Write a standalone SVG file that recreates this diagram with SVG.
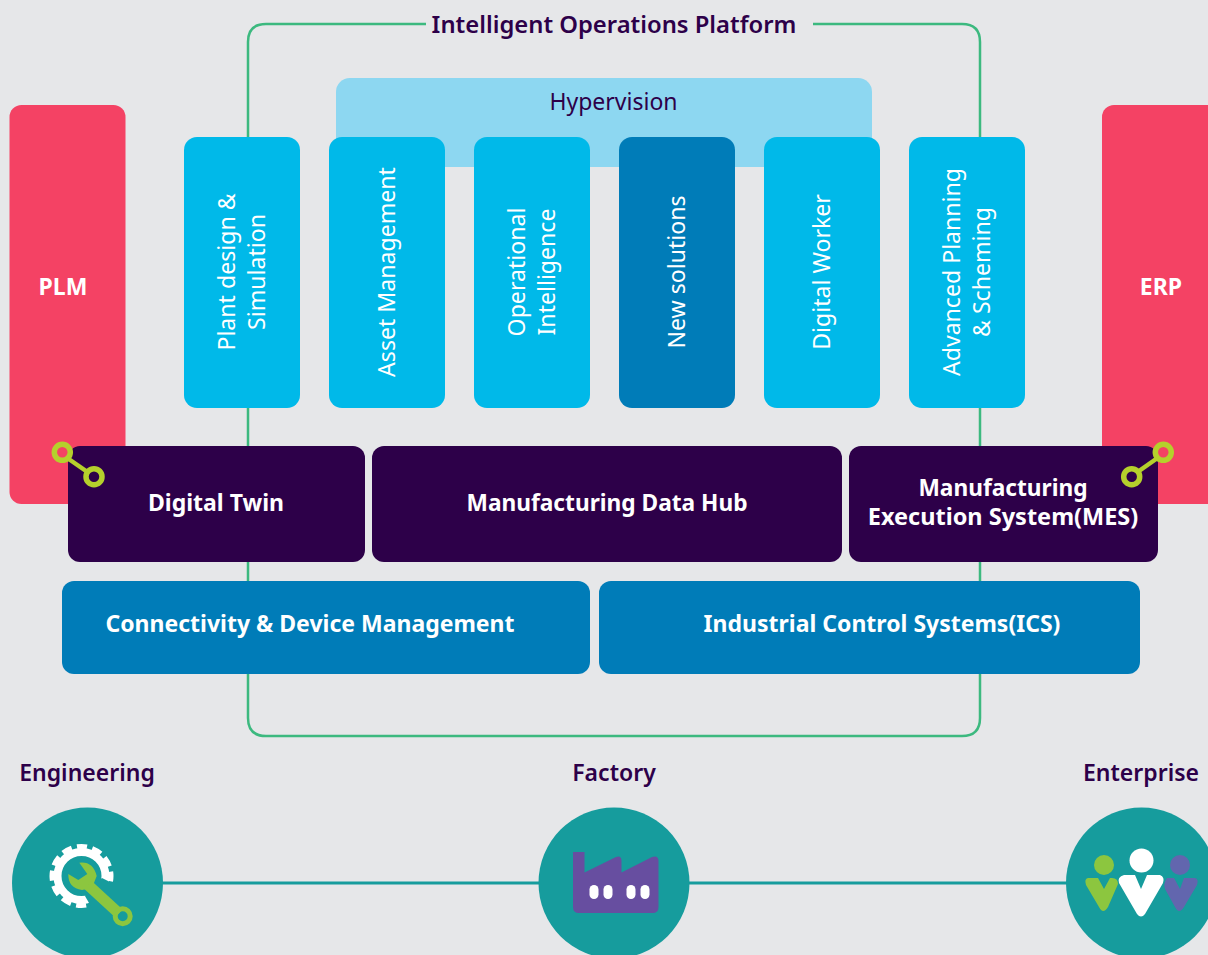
<svg xmlns="http://www.w3.org/2000/svg" width="1208" height="955" viewBox="0 0 1208 955">
<style>
text{font-family:"Noto Sans","Open Sans","Liberation Sans",sans-serif;text-anchor:middle}
.b{font-weight:700;fill:#fff;font-size:23px}
.l{font-weight:600;fill:#2d0049;font-size:23px}
.v{font-weight:400;fill:#fff;font-size:23.100px}
.pink{fill:#f44264}.sky{fill:#00b9e9}.deep{fill:#007cb8}.dark{fill:#2d0049}.teal{fill:#169c9d}
.lnk{fill:none;stroke:#b5d02c;stroke-width:5.5}
</style>
<rect width="1208" height="955" fill="#e6e7e9"/>
<g id="connectors" fill="none">
<path d="M426 24H266Q248 24 248 42V718Q248 736 266 736H962Q980 736 980 718V42Q980 24 962 24H813" stroke="#3cb97f" stroke-width="2.500"/>
<path d="M160 883H1070" stroke="#169c9d" stroke-width="3"/>
</g>
<text class="l" x="614" y="33" style="font-size:23.800px">Intelligent Operations Platform</text>
<g id="plm"><rect class="pink" x="9.500" y="105" width="116" height="399" rx="12"/><text class="b" x="63" y="295">PLM</text></g>
<g id="erp"><rect class="pink" x="1102" y="105" width="120" height="399" rx="12"/><text class="b" x="1161" y="295">ERP</text></g>
<g id="hypervision"><rect x="336" y="78" width="536" height="89" rx="14" fill="#8dd7f1"/><text x="613.500" y="110" style="font-size:23px;fill:#2d0049">Hypervision</text></g>
<g id="plant"><rect class="sky" x="184" y="137" width="116" height="271" rx="13"/><text class="v" transform="translate(235 272) rotate(-90)"><tspan x="0" y="0">Plant design &amp;</tspan><tspan x="0" y="30">Simulation</tspan></text></g>
<g id="asset"><rect class="sky" x="329" y="137" width="116" height="271" rx="13"/><text class="v" transform="translate(395 272) rotate(-90)">Asset Management</text></g>
<g id="opint"><rect class="sky" x="474" y="137" width="116" height="271" rx="13"/><text class="v" transform="translate(525 272) rotate(-90)"><tspan x="0" y="0">Operational</tspan><tspan x="0" y="30">Intelligence</tspan></text></g>
<g id="newsol"><rect class="deep" x="619" y="137" width="116" height="271" rx="13"/><text class="v" transform="translate(685 272) rotate(-90)">New solutions</text></g>
<g id="worker"><rect class="sky" x="764" y="137" width="116" height="271" rx="13"/><text class="v" transform="translate(830 272) rotate(-90)">Digital Worker</text></g>
<g id="aps"><rect class="sky" x="909" y="137" width="116" height="271" rx="13"/><text class="v" transform="translate(960 272) rotate(-90)"><tspan x="0" y="0">Advanced Planning</tspan><tspan x="0" y="30">&amp; Scheming</tspan></text></g>
<g id="twin"><rect class="dark" x="68" y="446" width="297" height="116" rx="12"/><text class="b" x="216" y="511">Digital Twin</text></g>
<g id="hub"><rect class="dark" x="372" y="446" width="470" height="116" rx="12"/><text class="b" x="607" y="511" style="font-size:22.700px">Manufacturing Data Hub</text></g>
<g id="mes"><rect class="dark" x="849" y="446" width="309" height="116" rx="12"/><text class="b" x="1003" y="496" style="font-size:22.700px">Manufacturing</text><text class="b" x="1003" y="525" style="font-size:23.500px">Execution System(MES)</text></g>
<g id="conn"><rect class="deep" x="62" y="581" width="528" height="93" rx="12"/><text class="b" x="310" y="632">Connectivity &amp; Device Management</text></g>
<g id="ics"><rect class="deep" x="599" y="581" width="541" height="93" rx="12"/><text class="b" x="882" y="632">Industrial Control Systems(ICS)</text></g>
<g id="link-left"><path class="lnk" d="M68 458.500L86 471" style="stroke-width:4.500"/><circle class="lnk" cx="62.300" cy="452.300" r="8"/><circle class="lnk" cx="94" cy="476.700" r="8"/></g>
<g id="link-right"><path class="lnk" d="M1157.500 458L1139 471" style="stroke-width:4.500"/><circle class="lnk" cx="1163.300" cy="452.300" r="8"/><circle class="lnk" cx="1131.700" cy="476.700" r="8"/></g>
<g id="engineering"><text class="l" x="87" y="781">Engineering</text><circle class="teal" cx="87.500" cy="883" r="75.500"/>
<circle cx="81.500" cy="876" r="28" fill="none" stroke="#fff" stroke-width="8" stroke-dasharray="9.500 5.160" stroke-dashoffset="4.500"/>
<circle cx="81.500" cy="876" r="24" fill="none" stroke="#fff" stroke-width="8"/>
<path d="M102 878L118 886V910H93L85 896L92 886Z" fill="#169c9d"/>
<path d="M79.300 862.700Q93 861 96.700 876L92 888L82 890Q68 888 68.300 874L78.300 880L87.300 874Z" fill="#8cc63f"/>
<path d="M88 885L119 913.500" stroke="#8cc63f" stroke-width="11" fill="none"/>
<circle cx="122.700" cy="916.300" r="7.500" fill="none" stroke="#8cc63f" stroke-width="5"/></g>
<g id="factory"><text class="l" x="614" y="781">Factory</text><circle class="teal" cx="614" cy="883" r="75.500"/>
<path d="M573 852H584.500V872.500L616 857Q621.500 855 621.500 861V872.500L652 857Q658.500 855 658.500 861V907Q658.500 913 652.500 913H579Q573 913 573 907Z" fill="#674ea0"/>
<g fill="#fff"><rect x="589.500" y="885" width="9" height="14" rx="4.500"/><rect x="603.500" y="885" width="9" height="14" rx="4.500"/><rect x="626.500" y="885" width="9" height="14" rx="4.500"/><rect x="640.500" y="885" width="9" height="14" rx="4.500"/></g></g>
<g id="enterprise"><text class="l" x="1141" y="781">Enterprise</text><circle class="teal" cx="1141.500" cy="883" r="75.500"/>
<circle cx="1104" cy="865" r="10" fill="#8cc63f"/>
<path d="M1088 878H1098L1104 889L1110 878H1112Q1118 878 1118 884L1108 907Q1103 915 1099 907L1086 885Q1084 879 1088 878Z" fill="#8cc63f"/>
<circle cx="1180" cy="865" r="10" fill="#6266ae"/>
<path d="M1167 878H1174L1180 889L1184 878H1195Q1199 879 1197 885L1184 907Q1179 915 1175 907L1165 889Q1163 884 1167 878Z" fill="#6266ae"/>
<circle cx="1141.500" cy="860.500" r="12" fill="#fff"/>
<path d="M1124 875H1135L1141 889L1147 875H1160Q1165 877 1163 883L1145 914Q1141 919 1137 914L1119 883Q1117 877 1124 875Z" fill="#fff"/></g>
</svg>
